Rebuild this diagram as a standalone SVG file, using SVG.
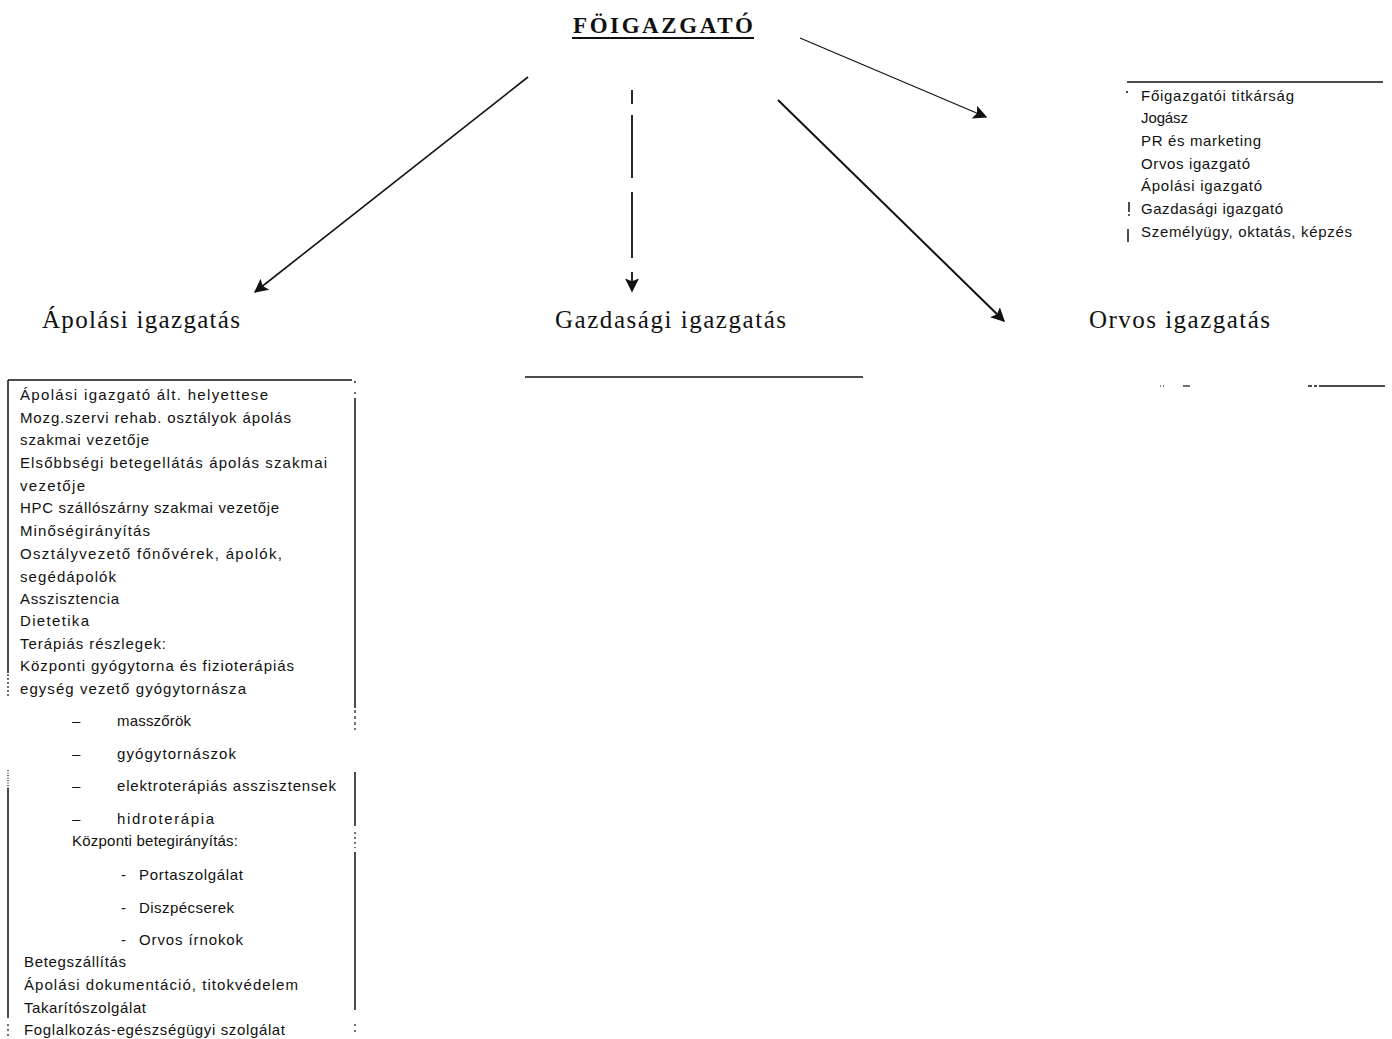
<svg xmlns="http://www.w3.org/2000/svg" width="1392" height="1039" viewBox="0 0 1392 1039">
<style>
.t{font-family:"Liberation Sans",Arial,sans-serif;font-size:15px;fill:#111}
.h{font-family:"Liberation Serif","Times New Roman",serif;font-size:25px;fill:#111}
.ln{stroke:#111;fill:none}
</style>
<defs>
<marker id="ah" viewBox="0 0 10 10" refX="9" refY="5" markerWidth="17" markerHeight="14" markerUnits="userSpaceOnUse" orient="auto">
<path d="M0,0 L10,5 L0,10 L2,5 Z" fill="#111"/>
</marker>
</defs>
<rect width="1392" height="1039" fill="#fff"/>

<g id="foigazgato">
<text class="h" x="573" y="33" textLength="180" lengthAdjust="spacing" style="font-size:23px;font-weight:bold">FÖIGAZGATÓ</text>
<line class="ln" x1="572" y1="38" x2="754" y2="38" stroke-width="2"/>
</g>

<g id="connectors">
<line class="ln" x1="528" y1="77" x2="255" y2="292" stroke-width="1.6" marker-end="url(#ah)"/>
<line class="ln" x1="632" y1="90" x2="632" y2="291" stroke-width="1.8" stroke-dasharray="14,11,63,14,66,14" marker-end="url(#ah)"/>
<line class="ln" x1="800" y1="38" x2="986" y2="117" stroke-width="1.2" marker-end="url(#ah)"/>
<line class="ln" x1="778" y1="100" x2="1004" y2="321" stroke-width="2" marker-end="url(#ah)"/>
</g>

<g id="apolasi">
<text class="h" x="42" y="328" textLength="198" lengthAdjust="spacing">Ápolási igazgatás</text>
</g>
<g id="gazdasagi">
<text class="h" x="555" y="328" textLength="231" lengthAdjust="spacing">Gazdasági igazgatás</text>
<line class="ln" x1="525" y1="377" x2="863" y2="377" stroke-width="1.5"/>
</g>
<g id="orvos">
<text class="h" x="1089" y="328" textLength="181" lengthAdjust="spacing">Orvos igazgatás</text>
<line class="ln" x1="1160" y1="386" x2="1164" y2="386" stroke-width="1" stroke-dasharray="1,2"/>
<line class="ln" x1="1183" y1="386" x2="1190" y2="386" stroke-width="1.2"/>
<line class="ln" x1="1308" y1="386" x2="1385" y2="386" stroke-width="1.5" stroke-dasharray="4,2,3,2,70"/>
</g>

<g id="felso-lista">
<line class="ln" x1="1127" y1="82" x2="1383" y2="82" stroke-width="1.5"/>
<circle cx="1127" cy="92" r="1" fill="#111"/>
<line class="ln" x1="1129" y1="202" x2="1129" y2="212" stroke-width="1.5"/>
<circle cx="1129" cy="215" r="0.9" fill="#111"/>
<line class="ln" x1="1128" y1="229" x2="1128" y2="242" stroke-width="1.5"/>
<text class="t" x="1141" y="101" textLength="153" lengthAdjust="spacing">Főigazgatói titkárság</text>
<text class="t" x="1141" y="123" textLength="47" lengthAdjust="spacing">Jogász</text>
<text class="t" x="1141" y="146" textLength="120" lengthAdjust="spacing">PR és marketing</text>
<text class="t" x="1141" y="169" textLength="109" lengthAdjust="spacing">Orvos igazgató</text>
<text class="t" x="1141" y="191" textLength="121" lengthAdjust="spacing">Ápolási igazgató</text>
<text class="t" x="1141" y="214" textLength="142" lengthAdjust="spacing">Gazdasági igazgató</text>
<text class="t" x="1141" y="237" textLength="211" lengthAdjust="spacing">Személyügy, oktatás, képzés</text>
</g>

<g id="apolasi-lista">
<line class="ln" x1="8" y1="380" x2="352" y2="380" stroke-width="1.5"/>
<circle cx="355" cy="382" r="0.9" fill="#111"/>
<line class="ln" x1="8" y1="380" x2="8" y2="673" stroke-width="1.5"/>
<line class="ln" x1="8" y1="674" x2="8" y2="698" stroke-width="1.2" stroke-dasharray="2,2"/>
<line class="ln" x1="8" y1="770" x2="8" y2="788" stroke-width="1.2" stroke-dasharray="1,1.5"/>
<line class="ln" x1="8" y1="788" x2="8" y2="1018" stroke-width="1.5"/>
<line class="ln" x1="8" y1="1024" x2="8" y2="1036" stroke-width="1.2" stroke-dasharray="2,3"/>
<line class="ln" x1="355" y1="392" x2="355" y2="394" stroke-width="1.2"/>
<line class="ln" x1="355" y1="398" x2="355" y2="708" stroke-width="1.5"/>
<line class="ln" x1="355" y1="710" x2="355" y2="730" stroke-width="1.2" stroke-dasharray="3,3"/>
<line class="ln" x1="355" y1="772" x2="355" y2="826" stroke-width="1.5"/>
<line class="ln" x1="355" y1="832" x2="355" y2="848" stroke-width="1.2" stroke-dasharray="2,3"/>
<line class="ln" x1="355" y1="852" x2="355" y2="1010" stroke-width="1.5"/>
<line class="ln" x1="355" y1="1024" x2="355" y2="1036" stroke-width="1.2" stroke-dasharray="2,4"/>
<text class="t" x="20" y="400" textLength="248" lengthAdjust="spacing">Ápolási igazgató ált. helyettese</text>
<text class="t" x="20" y="423" textLength="271" lengthAdjust="spacing">Mozg.szervi rehab. osztályok ápolás</text>
<text class="t" x="20" y="445" textLength="129" lengthAdjust="spacing">szakmai vezetője</text>
<text class="t" x="20" y="468" textLength="307" lengthAdjust="spacing">Elsőbbségi betegellátás ápolás szakmai</text>
<text class="t" x="20" y="491" textLength="65" lengthAdjust="spacing">vezetője</text>
<text class="t" x="20" y="513" textLength="259" lengthAdjust="spacing">HPC szállószárny szakmai vezetője</text>
<text class="t" x="20" y="536" textLength="130" lengthAdjust="spacing">Minőségirányítás</text>
<text class="t" x="20" y="559" textLength="262" lengthAdjust="spacing">Osztályvezető főnővérek, ápolók,</text>
<text class="t" x="20" y="582" textLength="96" lengthAdjust="spacing">segédápolók</text>
<text class="t" x="20" y="604" textLength="99" lengthAdjust="spacing">Asszisztencia</text>
<text class="t" x="20" y="626" textLength="69" lengthAdjust="spacing">Dietetika</text>
<text class="t" x="20" y="649" textLength="146" lengthAdjust="spacing">Terápiás részlegek:</text>
<text class="t" x="20" y="671" textLength="274" lengthAdjust="spacing">Központi gyógytorna és fizioterápiás</text>
<text class="t" x="20" y="694" textLength="226" lengthAdjust="spacing">egység vezető gyógytornásza</text>
<text class="t" x="72" y="726">–</text>
<text class="t" x="117" y="726" textLength="74" lengthAdjust="spacing">masszőrök</text>
<text class="t" x="72" y="759">–</text>
<text class="t" x="117" y="759" textLength="119" lengthAdjust="spacing">gyógytornászok</text>
<text class="t" x="72" y="791">–</text>
<text class="t" x="117" y="791" textLength="219" lengthAdjust="spacing">elektroterápiás asszisztensek</text>
<text class="t" x="72" y="824">–</text>
<text class="t" x="117" y="824" textLength="97" lengthAdjust="spacing">hidroterápia</text>
<text class="t" x="72" y="846" textLength="166" lengthAdjust="spacing">Központi betegirányítás:</text>
<text class="t" x="121" y="880">-</text>
<text class="t" x="139" y="880" textLength="104" lengthAdjust="spacing">Portaszolgálat</text>
<text class="t" x="121" y="913">-</text>
<text class="t" x="139" y="913" textLength="95" lengthAdjust="spacing">Diszpécserek</text>
<text class="t" x="121" y="945">-</text>
<text class="t" x="139" y="945" textLength="104" lengthAdjust="spacing">Orvos írnokok</text>
<text class="t" x="24" y="967" textLength="102" lengthAdjust="spacing">Betegszállítás</text>
<text class="t" x="24" y="990" textLength="274" lengthAdjust="spacing">Ápolási dokumentáció, titokvédelem</text>
<text class="t" x="24" y="1013" textLength="122" lengthAdjust="spacing">Takarítószolgálat</text>
<text class="t" x="24" y="1035" textLength="261" lengthAdjust="spacing">Foglalkozás-egészségügyi szolgálat</text>
</g>
</svg>
